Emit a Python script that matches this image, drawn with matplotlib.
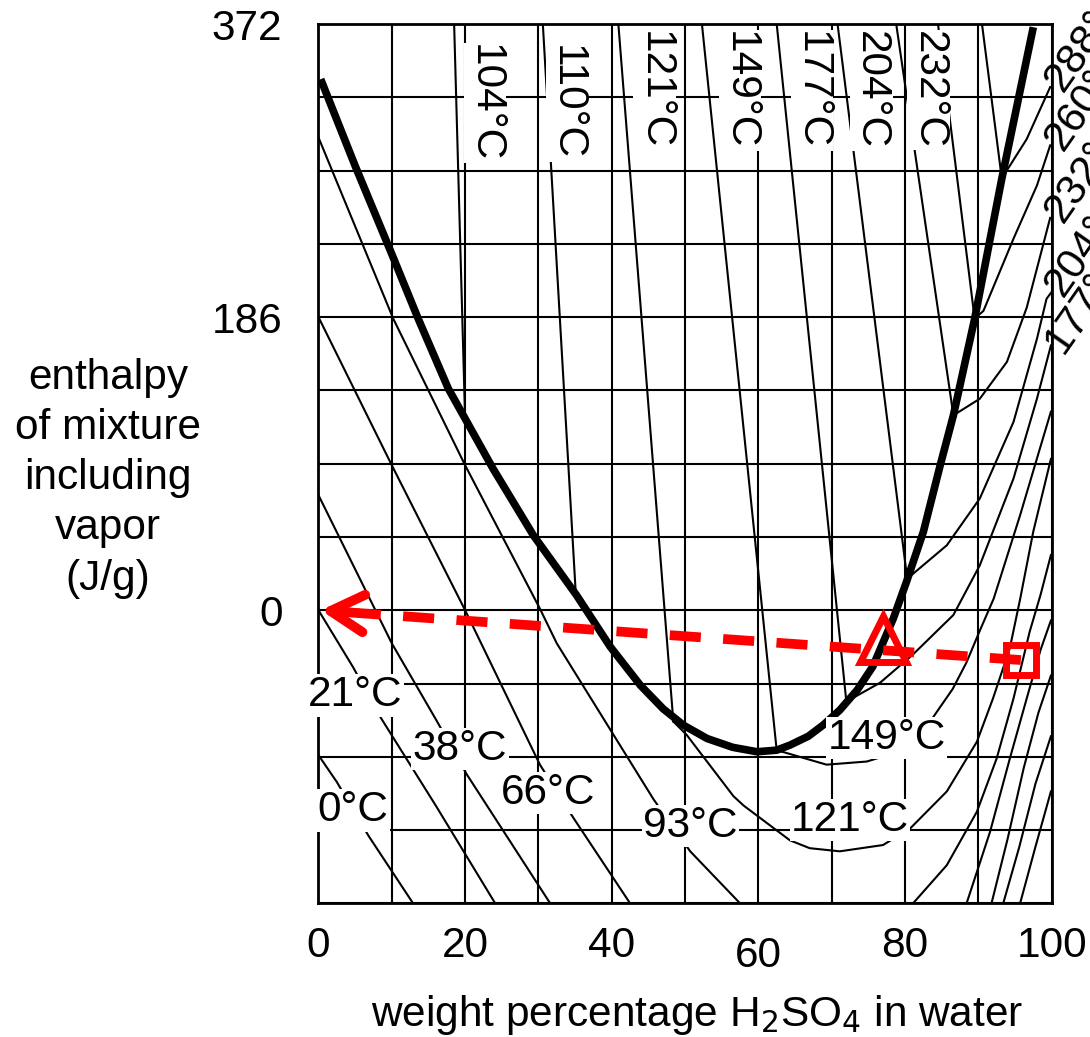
import numpy as np
import matplotlib.pyplot as plt
from matplotlib.transforms import ScaledTranslation

plt.rcParams['font.family'] = ['Liberation Sans', 'DejaVu Sans']

# boiling line (thick)
boil_x = [0.3, 5, 10, 13.6, 17.7, 20, 23.8, 29.3, 35.2, 39.8, 43.9, 47, 49.8, 53, 56.5, 59.8,
          62.5, 64.3, 66.8, 68.8, 71.1, 73.5, 75.6, 78.4, 80.2, 82.5, 84.8, 86.6, 89.5, 93.2, 97.5]
boil_y = [337, 282, 226, 185, 140.7, 121.6, 89.9, 47.6, 9.5, -23.2, -47.6, -62.5, -73, -81.4, -87, -89.8,
          -88.8, -85.6, -80, -73, -63.4, -50.5, -35.8, -5.3, 18, 49.7, 92, 123.7, 185, 273.8, 370]

# two-phase isotherms (straight lines from top edge down to boiling line)
vap_top_x = [18.5, 30.6, 40.9, 52.3, 62.5, 70.8, 78.8, 84.5, 90.5]
vap_end_x = [20.0, 35.1, 48.4, 62.5, 72.0, 80.3, 86.6, 89.5, 93.2]
vap_end_y = [121, 10, -70.6, -89, -58, 20, 123.7, 185, 274]

# liquid isotherms
liq0_x = [0, 2.5, 6.8, 12.9]
liq0_y = [-92, -109, -143, -186]
liq21_x = [0, 4.7, 8.6, 16, 24.1]
liq21_y = [0, -36, -69, -124, -186]
liq38_x = [0, 5, 10, 16.1, 20.2, 31.6]
liq38_y = [73, 26, -21, -70, -104, -186]
liq66_x = [0, 10, 20, 30.2, 34.8, 42.5]
liq66_y = [186, 92, 0, -98, -132, -186]
liq93_x = [0, 10.2, 20, 30.2, 32.5, 45.7, 50.7, 57.5]
liq93_y = [300, 185, 92, 1, -21, -120, -153, -186]
liq121_x = [48.4, 50.2, 56.6, 58, 64.3, 67, 71.1, 77, 80.7, 85.7, 89.8, 92, 94.3, 95.7, 97.5, 99.9]
liq121_y = [-70.6, -79, -118, -124, -146, -151, -153, -149, -138.5, -115, -83.5, -56, -24, 7, 50, 96]
liq149_x = [62.5, 63.4, 69.3, 74.8, 79, 82.5, 84.5, 86.5, 88.4, 90.2, 92.1, 95.7, 98.4, 99.9]
liq149_y = [-89, -90, -98, -96, -90, -77, -63.4, -50, -33, -13, 7.4, 60.3, 102.6, 126]
liq177_x = [72.0, 76.6, 81.1, 86.6, 90.2, 94.8, 98, 99.9]
liq177_y = [-58, -46, -28, -3, 28.5, 83.6, 134.3, 168]
liq204_x = [80.3, 85.7, 90.2, 94.8, 98, 99.3, 100]
liq204_y = [20, 41.2, 70.9, 119.5, 172.3, 197.6, 202]
liq232_x = [86.6, 90.2, 93.9, 96.6, 99.8]
liq232_y = [123.7, 134.2, 157.6, 192, 249]
liq260_x = [89.5, 90.7, 94.8, 98, 99.8]
liq260_y = [185, 190, 235.8, 269.6, 295]
liq288_x = [93.2, 96.6, 99.8]
liq288_y = [274, 299, 332]
# high-concentration lower isotherms (bottom right)
hc93_x = [81.1, 85.7, 89.8, 92.5, 94.8, 97, 98.5, 99.9]
hc93_y = [-186, -161.8, -127.9, -94.1, -56, -13.7, 10, 35]
hc66_x = [88.4, 91.6, 94.3, 96.6, 98.5, 99.9]
hc66_y = [-186, -140.6, -94.1, -56, -25, -6.5]
hc38_x = [91.8, 94, 96.2, 98.2, 99.9]
hc38_y = [-186, -145, -100, -65, -41.5]
hc21_x = [93.4, 95.6, 97.8, 99.9]
hc21_y = [-186, -150, -110, -80]
hc0_x = [95.7, 97.8, 99.9]
hc0_y = [-186, -150, -115]

liq_lines = [(liq0_x, liq0_y), (liq21_x, liq21_y), (liq38_x, liq38_y), (liq66_x, liq66_y),
             (liq93_x, liq93_y), (liq121_x, liq121_y), (liq149_x, liq149_y), (liq177_x, liq177_y),
             (liq204_x, liq204_y), (liq232_x, liq232_y), (liq260_x, liq260_y), (liq288_x, liq288_y),
             (hc93_x, hc93_y), (hc66_x, hc66_y), (hc38_x, hc38_y), (hc21_x, hc21_y), (hc0_x, hc0_y)]

# labels
top_labels = ['104°C', '110°C', '121°C', '149°C', '177°C', '204°C', '232°C']
top_lab_x = [22.7, 33.9, 45.8, 57.5, 67.3, 75.4, 83.2]
top_lab_y = [322, 322, 330, 330, 330, 330, 330]
liq_labels = ['21°C', '38°C', '66°C', '0°C', '93°C', '121°C', '149°C']
liq_lab_x = [5.0, 19.3, 31.3, 4.7, 50.7, 72.5, 77.5]
liq_lab_y = [-54, -88, -116, -127, -137, -133, -81]
edge_labels = ['288°C', '260°C', '232°C', '204°C', '177°C']
edge_lab_y = [332, 295, 249, 202, 166]

# example process: start point, intermediate point, end point
start_pt = (95.8, -31.6)
mid_pt = (77.0, -18)
end_pt = (0.3, 0)

fs = 30.5
fig = plt.figure(figsize=(10.9, 10.37), dpi=100)
ax = fig.add_axes([0.2922, 0.1289, 0.6726, 0.8479])
ax.set_xlim(0, 100)
ax.set_ylim(-186, 372)

ax.set_xticks([0, 20, 40, 60, 80, 100])
ax.set_xticks(np.arange(10, 100, 20), minor=True)
ax.set_yticks([0, 186, 372])
ax.set_yticks(np.arange(-186, 372, 46.5), minor=True)
ax.grid(which='both', color='black', lw=1.5)
ax.tick_params(which='both', length=0)
ax.tick_params(axis='x', pad=16, labelsize=fs)
ax.tick_params(axis='y', pad=26, labelsize=fs)
for s in ax.spines.values():
    s.set_linewidth(2)
for lbl in ax.get_xticklabels():
    if lbl.get_text() == '60':
        lbl.set_transform(lbl.get_transform() + ScaledTranslation(0, -0.1, fig.dpi_scale_trans))

for tx, ex, ey in zip(vap_top_x, vap_end_x, vap_end_y):
    ax.plot([tx, ex], [372, ey], color='black', lw=1.5, zorder=3)
for xs, ys in liq_lines:
    ax.plot(xs, ys, color='black', lw=1.5, zorder=3)
ax.plot(boil_x, boil_y, color='black', lw=5.5, zorder=4, solid_capstyle='butt', solid_joinstyle='round')

box = dict(facecolor='white', edgecolor='none', pad=1)
for t, x, y in zip(top_labels, top_lab_x, top_lab_y):
    ax.text(x, y, t, rotation=270, ha='center', va='center', fontsize=fs, bbox=box, zorder=5)
for t, x, y in zip(liq_labels, liq_lab_x, liq_lab_y):
    ax.text(x, y, t, ha='center', va='center', fontsize=fs, bbox=box, zorder=5)
for t, y in zip(edge_labels, edge_lab_y):
    ax.text(100.3, y, t, rotation=55, ha='left', va='center', rotation_mode='anchor',
            fontsize=fs, clip_on=False, zorder=5)

ax.plot([start_pt[0], 5.3], [start_pt[1], -1.75], color='red', lw=7, dashes=(3.2, 2.3), zorder=6)
ax.annotate('', xy=end_pt, xytext=(5.3, -1.75),
            arrowprops=dict(arrowstyle='->,head_length=0.8,head_width=0.45', color='red', lw=7,
                            mutation_scale=30, shrinkA=0, shrinkB=0), zorder=6)
ax.plot(*mid_pt, marker='^', ms=33, mfc='none', mec='red', mew=5, zorder=7)
ax.plot(*start_pt, marker='s', ms=22, mfc='none', mec='red', mew=5, zorder=7)

fig.text(0.640, 0.021, 'weight percentage H$_2$SO$_4$ in water', ha='center', va='center', fontsize=fs)
fig.text(0.099, 0.539, 'enthalpy\nof mixture\nincluding\nvapor\n(J/g)', ha='center', va='center',
         fontsize=fs, linespacing=1.33)

fig.savefig('out.png', dpi=100)
